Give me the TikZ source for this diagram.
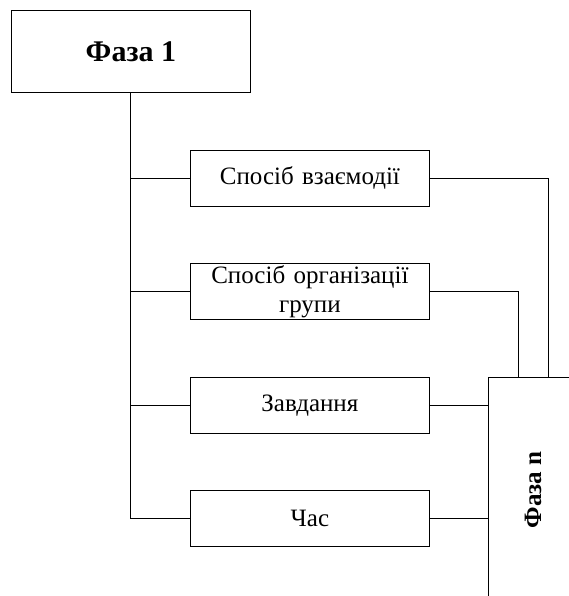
\documentclass[tikz,border=0pt]{standalone}
\usepackage{fontspec}
\setmainfont{Liberation Serif}
\begin{document}
\begin{tikzpicture}[x=1pt,y=-1pt,
  box/.style={draw,line width=0.8pt,minimum width=239pt,minimum height=56pt,inner sep=0pt,font=\fontsize{25}{29}\selectfont,align=center,anchor=north west,text width=239pt},
  line/.style={line width=0.8pt}]
\useasboundingbox (0,0) rectangle (569,596);
\node[draw,line width=0.8pt,minimum width=239pt,minimum height=82pt,inner sep=0pt,anchor=north west,font=\fontsize{30}{32}\selectfont\bfseries] (p1) at (11,10) {Фаза 1};
\node[box] (b1) at (190,150) {Спосіб взаємодії};
\node[box] (b2) at (190,263) {Спосіб організації\\групи};
\node[box] (b3) at (190,377) {Завдання};
\node[box] (b4) at (190,490) {Час};
\coordinate (pnTL) at (488,377);
\coordinate (pnTR) at (569,377);
\coordinate (pnBL) at (488,596);
\node[rotate=90,font=\fontsize{25}{27}\selectfont\bfseries] (pn) at (533,490) {Фаза n};
\draw[line] (pnTR) -- (pnTL) -- (pnBL);
\coordinate (trunkEnd) at (130,518);
\draw[line] (p1.south -| trunkEnd) -- (trunkEnd);
\foreach \b in {b1,b2,b3,b4} {\draw[line] (\b.west) -- (\b.west -| trunkEnd);}
\draw[line] (b1.east) -| (548,377);
\draw[line] (b2.east) -| (518,377);
\draw[line] (b3.east) -- (b3.east -| pnTL);
\draw[line] (b4.east) -- (b4.east -| pnTL);
\end{tikzpicture}
\end{document}
